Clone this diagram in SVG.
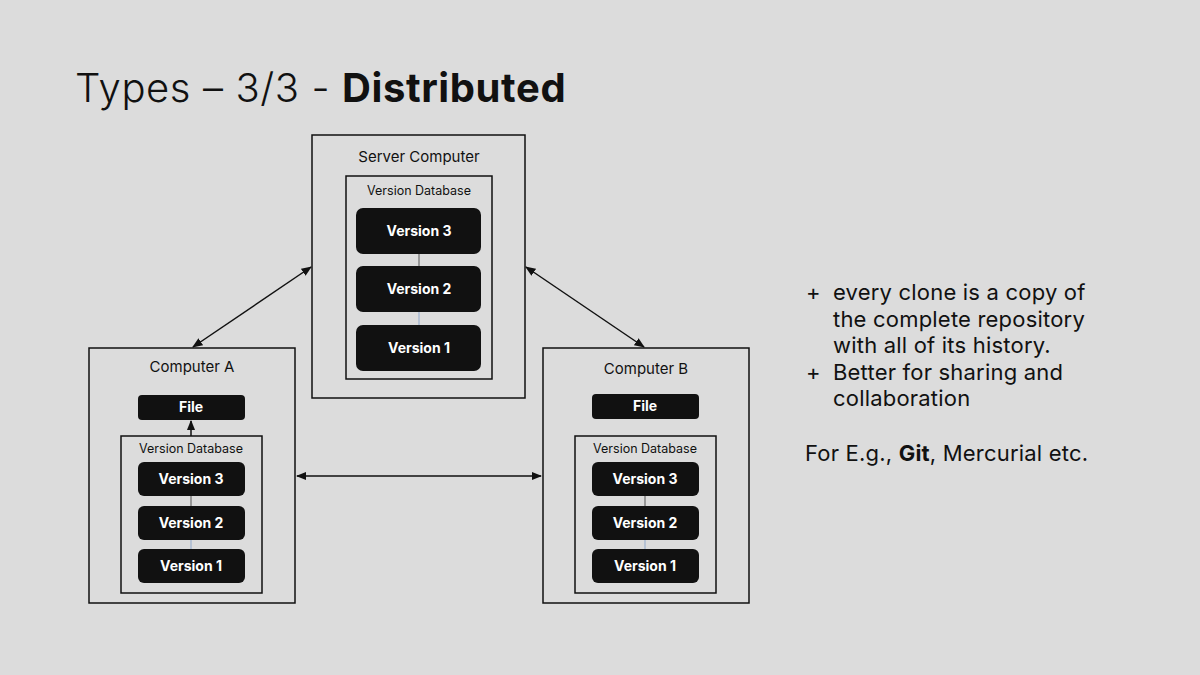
<svg xmlns="http://www.w3.org/2000/svg" width="1200" height="675" viewBox="0 0 1200 675">
<defs>
<marker id="ah" viewBox="0 0 10 10" refX="9" refY="5" markerWidth="7" markerHeight="7" orient="auto-start-reverse"><path d="M0,1 L10,5 L0,9 z" fill="#111"/></marker>
<style>
text{font-family:Inter,"Liberation Sans",sans-serif;fill:#111}
.box{fill:none;stroke:#111;stroke-width:1.5}
.v{fill:#111;stroke:none}
.vt{fill:#fff;font-weight:bold;font-size:14px;text-anchor:middle}
.lbl{font-size:15px;text-anchor:middle}
.db{font-size:12.5px;text-anchor:middle}
.c{stroke:#111;stroke-width:1.5;fill:none}
.body{font-size:22px;letter-spacing:0.2px}
</style>
</defs>
<rect width="1200" height="675" fill="#dcdcdc"/>
<text x="75" y="102" font-size="40" font-weight="300" letter-spacing="0.6">Types – 3/3 - <tspan font-weight="bold">Distributed</tspan></text>

<g id="server">
<rect class="box" x="312" y="135" width="213" height="263"/>
<text class="lbl" x="419" y="162" font-size="17.5">Server Computer</text>
<rect class="box" x="346" y="176" width="146" height="203"/>
<text class="db" x="419" y="195">Version Database</text>
<line x1="419" y1="254" x2="419" y2="266" stroke="#555"/>
<line x1="419" y1="312" x2="419" y2="325" stroke="#8fa8cc"/>
<rect class="v" x="356" y="208" width="125" height="46" rx="7"/><text class="vt" x="419" y="236">Version 3</text>
<rect class="v" x="356" y="266" width="125" height="46" rx="7"/><text class="vt" x="419" y="294">Version 2</text>
<rect class="v" x="356" y="325" width="125" height="46" rx="7"/><text class="vt" x="419" y="353">Version 1</text>
</g>

<g id="computerA">
<rect class="box" x="89" y="348" width="206" height="255"/>
<text class="lbl" x="192" y="372" font-size="14">Computer A</text>
<rect class="v" x="138" y="395" width="107" height="25" rx="4"/><text class="vt" x="191" y="412">File</text>
<rect class="box" x="121" y="436" width="141" height="157"/>
<text class="db" x="191" y="453">Version Database</text>
<line x1="191" y1="496" x2="191" y2="506" stroke="#555"/>
<line x1="191" y1="540" x2="191" y2="549" stroke="#8fa8cc"/>
<rect class="v" x="138" y="462" width="107" height="34" rx="6"/><text class="vt" x="191" y="484">Version 3</text>
<rect class="v" x="138" y="506" width="107" height="34" rx="6"/><text class="vt" x="191" y="528">Version 2</text>
<rect class="v" x="138" y="549" width="107" height="34" rx="6"/><text class="vt" x="191" y="571">Version 1</text>
</g>

<g id="computerB">
<rect class="box" x="543" y="348" width="206" height="255"/>
<text class="lbl" x="646" y="374">Computer B</text>
<rect class="v" x="592" y="394" width="107" height="25" rx="4"/><text class="vt" x="645" y="411">File</text>
<rect class="box" x="575" y="436" width="141" height="157"/>
<text class="db" x="645" y="453">Version Database</text>
<line x1="645" y1="496" x2="645" y2="506" stroke="#555"/>
<line x1="645" y1="540" x2="645" y2="549" stroke="#8fa8cc"/>
<rect class="v" x="592" y="462" width="107" height="34" rx="6"/><text class="vt" x="645" y="484">Version 3</text>
<rect class="v" x="592" y="506" width="107" height="34" rx="6"/><text class="vt" x="645" y="528">Version 2</text>
<rect class="v" x="592" y="549" width="107" height="34" rx="6"/><text class="vt" x="645" y="571">Version 1</text>
</g>

<g id="connectors">
<line class="c" x1="311" y1="267" x2="193" y2="347" marker-start="url(#ah)" marker-end="url(#ah)"/>
<line class="c" x1="526" y1="267" x2="644" y2="347" marker-start="url(#ah)" marker-end="url(#ah)"/>
<line class="c" x1="297" y1="476" x2="541" y2="476" marker-start="url(#ah)" marker-end="url(#ah)"/>
<line class="c" x1="191" y1="436" x2="191" y2="421" marker-end="url(#ah)"/>
</g>

<g id="notes">
<text class="body" x="806" y="300">+</text><text class="body" x="833" y="300">every clone is a copy of</text>
<text class="body" x="833" y="327">the complete repository</text>
<text class="body" x="833" y="353">with all of its history.</text>
<text class="body" x="806" y="380">+</text><text class="body" x="833" y="380">Better for sharing and</text>
<text class="body" x="833" y="406">collaboration</text>
<text class="body" x="805" y="461">For E.g., <tspan font-weight="bold">Git</tspan>, Mercurial etc.</text>
</g>
</svg>
